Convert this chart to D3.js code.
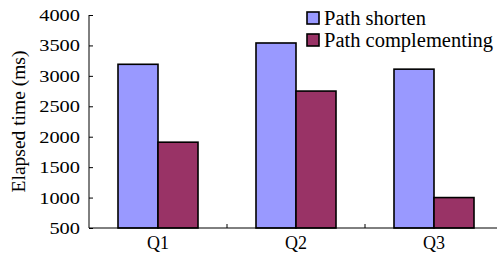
<!DOCTYPE html>
<html>
<head>
<meta charset="utf-8">
<script src="https://cdn.jsdelivr.net/npm/d3@7.9.0/dist/d3.min.js"></script>
<style>
  body { margin: 0; background: #fff; }
  svg { display: block; }
  svg text { font-family: "Liberation Serif", "Times New Roman", serif; fill: #000; }
</style>
</head>
<body>
<svg id="chart" width="497" height="270"></svg>
<script>
const categories = ['Q1', 'Q2', 'Q3'];
const series = ['Path shorten', 'Path complementing'];
const shortenValues = [3190, 3540, 3110];
const complementValues = [1910, 2750, 1000];
const yTicks = [500, 1000, 1500, 2000, 2500, 3000, 3500, 4000];
const colors = ['#9999ff', '#993366'];

const svg = d3.select('#chart');
const plotLeft = 89, plotRight = 503, plotTop = 15, plotBottom = 228;

const x0 = d3.scaleBand().domain(categories).range([plotLeft, plotRight]);
const x1 = d3.scaleBand().domain(series).range([0, x0.bandwidth()]).paddingOuter(0.725);
const y = d3.scaleLinear().domain([500, 4000]).range([plotBottom, plotTop]);

const rows = categories.map((c, i) => ({ cat: c, vals: [shortenValues[i], complementValues[i]] }));

// bars
const groups = svg.selectAll('g.cat')
  .data(rows)
  .join('g')
  .attr('class', 'cat')
  .attr('transform', d => `translate(${x0(d.cat)},0)`);

groups.selectAll('rect')
  .data(d => d.vals.map((v, i) => ({ s: series[i], v, i })))
  .join('rect')
  .attr('x', d => x1(d.s))
  .attr('width', x1.bandwidth())
  .attr('y', d => y(d.v))
  .attr('height', d => y(500) - y(d.v))
  .attr('fill', d => colors[d.i])
  .attr('stroke', '#000')
  .attr('stroke-width', 1.6);

// y axis (ticks inward)
const yAxis = svg.append('g')
  .attr('transform', `translate(${plotLeft},0)`)
  .call(d3.axisLeft(y).tickValues(yTicks).tickFormat(d3.format('d')).tickSize(-4).tickPadding(9));
yAxis.attr('font-family', null);
yAxis.select('.domain').attr('stroke', '#000').attr('d', `M0,${plotTop}V${plotBottom}`);
yAxis.selectAll('.tick line').attr('stroke', '#000');
yAxis.selectAll('.tick text')
  .attr('font-size', 17)
  .attr('x', -9 / 1.2)
  .attr('transform', 'scale(1.2,1)');

// x axis
const xAxis = svg.append('g')
  .attr('transform', `translate(0,${plotBottom})`);
xAxis.append('line')
  .attr('x1', plotLeft).attr('x2', 497)
  .attr('stroke', '#000');
xAxis.selectAll('line.tk')
  .data(categories.slice(1))
  .join('line')
  .attr('class', 'tk')
  .attr('x1', d => x0(d)).attr('x2', d => x0(d))
  .attr('y1', 0).attr('y2', -4)
  .attr('stroke', '#000');
xAxis.selectAll('text')
  .data(categories)
  .join('text')
  .attr('x', d => x0(d) + x0.bandwidth() / 2)
  .attr('y', 21)
  .attr('text-anchor', 'middle')
  .attr('font-size', 18)
  .text(d => d);

// y title
svg.append('text')
  .attr('transform', `translate(25,${(plotTop + plotBottom) / 2}) rotate(-90)`)
  .attr('text-anchor', 'middle')
  .attr('font-size', 19.5)
  .text('Elapsed time (ms)');

// legend
const legend = svg.append('g').attr('transform', 'translate(307,12)');
const items = legend.selectAll('g')
  .data(series)
  .join('g')
  .attr('transform', (d, i) => `translate(0,${i * 22})`);
items.append('rect')
  .attr('width', 12).attr('height', 12)
  .attr('fill', (d, i) => colors[i])
  .attr('stroke', '#000')
  .attr('stroke-width', 1.6);
items.append('text')
  .attr('x', 17)
  .attr('y', 6)
  .attr('dy', '0.35em')
  .attr('font-size', 20.5)
  .text(d => d);
</script>
</body>
</html>
